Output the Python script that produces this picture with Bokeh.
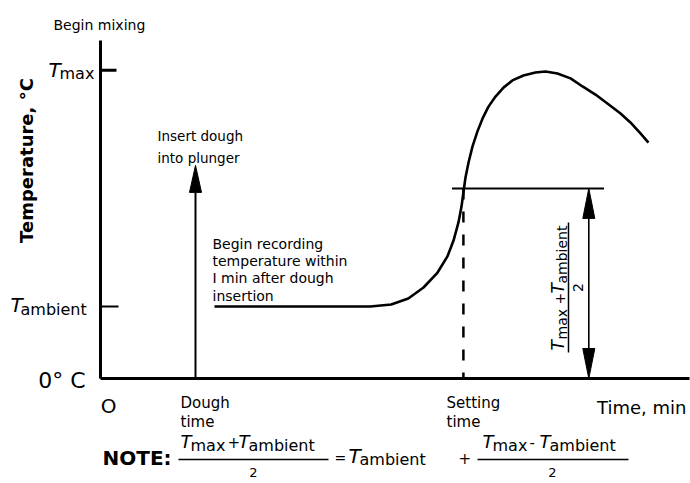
import math
from bokeh.plotting import figure
from bokeh.models import Range1d
from bokeh.core.properties import value
from bokeh.embed import file_html
from bokeh.resources import INLINE

# ---------------- data (schematic; time in min, temperature in deg C) ----------------
T_AMBIENT = 25.0
T_MAX = 107.0
T_MID = (T_MAX + T_AMBIENT) / 2.0
DOUGH_TIME = 5.0
RECORD_START = 6.0          # recording begins within 1 min after dough insertion
SETTING_TIME = 19.1
TIME_AXIS_END = 31.0
TEMP_AXIS_TOP = 117.4
DOUGH_ARROW_TOP = 74.0
MID_LINE_START = 18.5
MID_LINE_END = 26.5
DOUBLE_ARROW_TIME = 25.7

curve_time = [6.0, 14.2, 15.3, 16.2, 17.0, 17.74, 18.26, 18.58, 18.84, 19.0, 19.1,
              19.21, 19.37, 19.58, 19.84, 20.11, 20.42, 20.79, 21.21, 21.68, 22.26,
              22.89, 23.42, 24.05, 24.74, 25.37, 26.05, 26.68, 27.37, 27.89, 28.42, 28.84]
curve_temp = [25.0, 25.0, 25.7, 27.8, 31.6, 36.8, 42.4, 47.9, 54.2, 59.7, 64.6,
              69.8, 75.0, 80.6, 85.8, 90.3, 94.4, 97.9, 101.0, 103.5, 105.2,
              106.25, 106.6, 105.9, 104.2, 101.4, 98.6, 95.5, 92.0, 88.9, 85.1, 81.9]

# ---------------- layout ----------------
W, H = 690, 483
PX_PER_MIN = 19.0
PX_PER_DEG = 2.88
OX, OY = 100.0, 378.0   # canvas pixel of the origin

def tx(xp):   # canvas x pixel -> time
    return (xp - OX) / PX_PER_MIN

def ty(yp):   # canvas y pixel -> temperature
    return (OY - yp) / PX_PER_DEG

p = figure(width=W, height=H, output_backend="svg", toolbar_location=None,
           x_range=Range1d(tx(0), tx(W)), y_range=Range1d(ty(H), ty(0)),
           min_border=0)
p.axis.visible = False
p.grid.visible = False
p.outline_line_color = None
p.background_fill_color = "white"
p.border_fill_color = "white"

FONT = value("DejaVu Sans")
K = "black"

def txt(xp, yp, s, size, style="normal", align="left", baseline="alphabetic", angle=0.0):
    p.text(x=[tx(xp)], y=[ty(yp)], text=[s], text_font=FONT,
           text_font_size=value(f"{size}px"), text_font_style=style,
           text_align=align, text_baseline=baseline, angle=angle, text_color=K)

def tsub(xp, yp, sub, big=20, small=16, dx=11, drop=4):
    txt(xp, yp, "T", big, style="italic")
    txt(xp + dx, yp + drop, sub, small)

def head(t, T_tip, direction, length=27, width=12):
    # filled arrow head; direction +1 points up, -1 points down
    dt = width / 2.0 / PX_PER_MIN
    dT = direction * length / PX_PER_DEG
    p.patch([t, t - dt, t + dt], [T_tip, T_tip - dT, T_tip - dT], color=K)

# ---------------- axes ----------------
p.line([0, 0], [0, TEMP_AXIS_TOP], line_color=K, line_width=3)
p.line([0, TIME_AXIS_END], [0, 0], line_color=K, line_width=3)
p.line([0, 16 / PX_PER_MIN], [T_MAX, T_MAX], line_color=K, line_width=3)
p.line([0, 18 / PX_PER_MIN], [T_AMBIENT, T_AMBIENT], line_color=K, line_width=2)

# ---------------- curve ----------------
p.line(curve_time, curve_temp, line_color=K, line_width=2.6, line_join="round")

# half-way level line and setting time
p.line([MID_LINE_START, MID_LINE_END], [T_MID, T_MID], line_color=K, line_width=2)
p.line([SETTING_TIME, SETTING_TIME], [T_MID, 0], line_color=K, line_width=2.5,
       line_dash="11 12")

# dough insertion arrow
p.line([DOUGH_TIME, DOUGH_TIME], [0, DOUGH_ARROW_TOP - 20 / PX_PER_DEG], line_color=K, line_width=2)
head(DOUGH_TIME, DOUGH_ARROW_TOP, +1)

# double arrow 0 .. T_MID
p.line([DOUBLE_ARROW_TIME, DOUBLE_ARROW_TIME], [20 / PX_PER_DEG, T_MID - 20 / PX_PER_DEG],
       line_color=K, line_width=1.6)
head(DOUBLE_ARROW_TIME, T_MID, +1, length=30)
head(DOUBLE_ARROW_TIME, 0, -1, length=30)

# ---------------- texts ----------------
txt(53, 24, "Begin mixing", 14)
txt(26, 160, "Temperature, °C", 18, style="bold", align="center", baseline="middle",
    angle=math.pi / 2)
tsub(48, 69, "max")
tsub(10, 304, "ambient", dx=10, drop=5)
txt(85, 380, "0° C", 22, align="right")
txt(108, 405, "O", 20, align="center")
txt(180, 402, "Dough", 15)
txt(180, 421, "time", 15)
txt(446, 402, "Setting", 15)
txt(446, 421, "time", 15)
txt(686, 407, "Time, min", 18, align="right")
txt(157, 135, "Insert dough", 13.5)
txt(157, 157, "into plunger", 13.5)
for yb, s in zip([243, 260, 277, 295],
                 ["Begin recording", "temperature within", "I min after dough", "insertion"]):
    txt(212, yb, s, 14)

# rotated (Tmax + Tambient)/2 beside the double arrow
R = math.pi / 2
txt(557, 350, "T", 17, style="italic", baseline="middle", angle=R)
txt(561, 339, "max", 14, baseline="middle", angle=R)
txt(559, 304, "+", 14, baseline="middle", angle=R)
txt(557, 293, "T", 17, style="italic", baseline="middle", angle=R)
txt(561, 283, "ambient", 14, baseline="middle", angle=R)
p.line([tx(568), tx(568)], [ty(352), ty(222)], line_color=K, line_width=1.5)
txt(577, 287, "2", 14, align="center", baseline="middle", angle=R)

# NOTE equation
txt(102, 457, "NOTE:", 20, style="bold")
tsub(180, 441, "max", big=18, small=16, dx=10)
txt(227, 441, "+", 15)
tsub(238, 441, "ambient", big=18, small=16, dx=10)
p.line([tx(178), tx(328)], [ty(459), ty(459)], line_color=K, line_width=1.5)
txt(253, 472, "2", 13, align="center")
txt(334, 457, "=", 14)
tsub(348, 455, "ambient", big=20, small=16, dx=11)
txt(458, 457, "+", 15)
tsub(482, 441, "max", big=18, small=16, dx=10)
txt(529, 441, "-", 15)
tsub(539, 441, "ambient", big=18, small=16, dx=10)
p.line([tx(477), tx(628)], [ty(459), ty(459)], line_color=K, line_width=1.5)
txt(552, 472, "2", 13, align="center")

open("out.html", "w").write(file_html(p, INLINE))
